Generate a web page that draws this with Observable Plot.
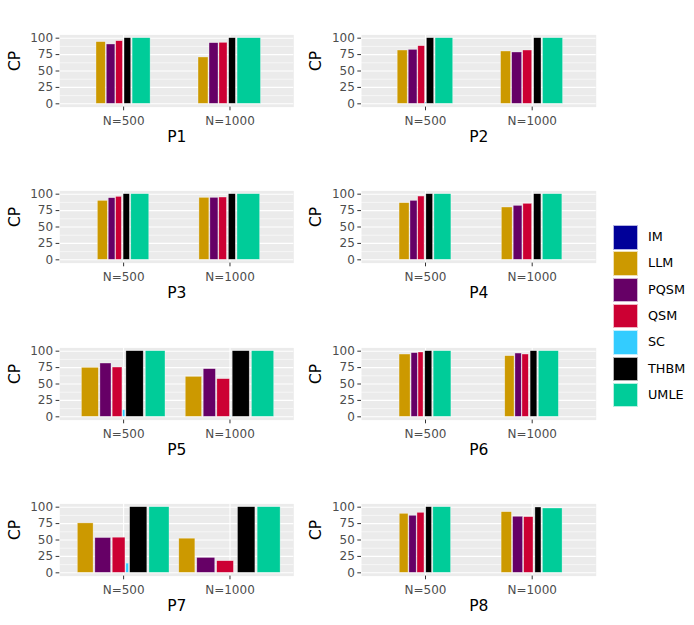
<!DOCTYPE html>
<html><head><meta charset="utf-8">
<script src="https://cdn.jsdelivr.net/npm/d3@7"></script>
<script src="https://cdn.jsdelivr.net/npm/@observablehq/plot@0.6"></script>
<style>
body{margin:0;background:#fff;font-family:"DejaVu Sans",sans-serif;}
#root{position:relative;width:694px;height:625px;overflow:hidden;}
.panel{position:absolute;}
.key{position:absolute;width:25px;height:24.5px;box-sizing:border-box;border:0.6px solid rgba(255,255,255,0.7);}
.lab{position:absolute;font-size:12.8px;color:#000;line-height:24.5px;}
</style></head><body><div id="root"></div>
<script>
// ---- data ----
const methods = ["IM", "LLM", "PQSM", "QSM", "SC", "THBM", "UMLE"];
const colors = ["#000099", "#CC9900", "#660066", "#CC0033", "#33CCFF", "#000000", "#00CC99"];
const sizes = ["N=500", "N=1000"];
const panelNames = ["P1", "P2", "P3", "P4", "P5", "P6", "P7", "P8"];
const yTicks = [0, 25, 50, 75, 100];

// CP (%) by method, [N=500, N=1000]
const cpP1 = [[0, 94, 90.4, 95.4, 0, 100, 100], [0, 70.6, 92.4, 92.9, 0, 100, 100]];
const cpP2 = [[0, 81.2, 82.2, 87.8, 2, 100, 100], [0, 79.7, 78.2, 81.2, 0, 100, 100]];
const cpP3 = [[0, 89.8, 93.9, 95.9, 1, 100, 100], [0, 94.4, 94.4, 94.9, 0, 100, 100]];
const cpP4 = [[0, 86.3, 89.8, 96.4, 0, 100, 100], [0, 79.7, 82.2, 85.3, 0, 100, 100]];
const cpP5 = [[0, 74.6, 81.2, 75.1, 10, 100, 100], [0, 60.9, 72.6, 57.4, 1, 100, 100]];
const cpP6 = [[0, 94.9, 97, 98, 0, 100, 100], [0, 92.4, 96.4, 94.9, 0, 100, 100]];
const cpP7 = [[0, 75.3, 53, 53.5, 14, 100, 100], [0, 52, 22.7, 17.7, 0, 100, 100]];
const cpP8 = [[0, 89.9, 86.9, 91.4, 1, 100, 100], [0, 92.4, 85.4, 84.8, 0, 99.5, 98]];

// bar width aesthetic (relative), by method, [N=500, N=1000]
const wP1 = [[0.3, 9.7, 9.0, 7.0, 0.8, 7.0, 18.8], [0.3, 10.4, 9.4, 8.4, 0.8, 7.0, 24.5]];
const wP2 = [[0.3, 10.4, 9.1, 7.0, 1.0, 7.6, 18.4], [0.3, 10.4, 10.4, 9.4, 1.0, 7.6, 20.9]];
const wP3 = [[0.3, 10.4, 7.0, 6.0, 1.0, 6.6, 18.8], [0.3, 10.4, 8.4, 8.0, 1.0, 7.3, 23.7]];
const wP4 = [[0.3, 10.4, 7.3, 6.6, 1.0, 7.0, 17.7], [0.3, 11.2, 9.1, 9.1, 1.0, 7.6, 20.3]];
const wP5 = [[0.3, 17.7, 11.6, 10.2, 2.3, 18.1, 20.6], [0.3, 17.1, 12.8, 13.2, 1.0, 17.8, 23.3]];
const wP6 = [[0.3, 11.5, 6.6, 5.2, 1.0, 7.3, 18.5], [0.3, 9.7, 6.6, 6.6, 1.0, 7.0, 20.9]];
const wP7 = [[0.3, 16.5, 16.5, 13.3, 2.8, 18, 21], [0.3, 16.8, 18.8, 17.5, 2.0, 18.2, 24]];
const wP8 = [[0.3, 9.1, 7.6, 7.3, 1.0, 6.0, 18.5], [0.3, 10.8, 10.4, 9.7, 1.0, 6.3, 20.5]];

const cpAll = [cpP1, cpP2, cpP3, cpP4, cpP5, cpP6, cpP7, cpP8];
const wAll = [wP1, wP2, wP3, wP4, wP5, wP6, wP7, wP8];

// ---- dodge2-like layout (variable widths, 10% padding) in data units ----
function layout(cp, w) {
  const rows = [];
  sizes.forEach((s, k) => {
    const slots = w[k].map(v => v / 100);
    const total = d3.sum(slots);
    let a = (k + 1) - total / 2;
    methods.forEach((m, i) => {
      const c = a + slots[i] / 2, hv = slots[i] * 0.9 / 2;
      rows.push({method: m, size: s, cp: cp[k][i], x1: c - hv, x2: c + hv});
      a += slots[i];
    });
  });
  return rows.filter(d => d.cp > 0);
}

const root = document.getElementById("root");
const rowPitch = 156.3;
const font = '"DejaVu Sans", sans-serif';

panelNames.forEach((name, p) => {
  const col = p % 2, row = Math.floor(p / 2);
  const bars = layout(cpAll[p], wAll[p]);
  const ml = col === 0 ? 59.3 : 61, mr = col === 0 ? 6.7 : 4.3;
  const chart = Plot.plot({
    width: 300, height: 156,
    marginLeft: ml, marginRight: mr, marginTop: 34.4, marginBottom: 49.4,
    style: {fontFamily: font, background: "transparent", overflow: "visible"},
    x: {domain: [0.4, 2.6], axis: null},
    y: {domain: [-5, 105], axis: null},
    color: {domain: methods, range: colors},
    marks: [
      Plot.frame({fill: "#EBEBEB", stroke: null}),
      Plot.ruleY([12.5, 37.5, 62.5, 87.5], {stroke: "white", strokeWidth: 0.55}),
      Plot.ruleY(yTicks, {stroke: "white", strokeWidth: 1.1}),
      Plot.ruleX([1, 2], {stroke: "white", strokeWidth: 1.1}),
      Plot.rect(bars, {x1: "x1", x2: "x2", y1: 0, y2: "cp", fill: "method",
        stroke: "white", strokeOpacity: 0.55, strokeWidth: 0.6}),
      Plot.axisX([1, 2], {tickFormat: d => sizes[d - 1], tickSize: 3.7, tickPadding: 5.2,
        fontSize: 12, fill: "#4D4D4D", stroke: "#333333", label: null}),
      Plot.axisY(yTicks, {tickSize: 3.7, tickPadding: 3.0, fontSize: 12,
        fill: "#4D4D4D", stroke: "#333333", label: null}),
      Plot.text([name], {frameAnchor: "bottom", lineAnchor: "middle", dy: 29.6, fontSize: 15.5, fill: "black"}),
      Plot.text(["CP"], {frameAnchor: "left", lineAnchor: "middle", dx: -45, rotate: -90, fontSize: 15.5, fill: "black"})
    ]
  });
  chart.classList.add("panel");
  chart.style.left = (col * 300) + "px";
  chart.style.top = (row * rowPitch) + "px";
  root.appendChild(chart);
});

// ---- legend ----
methods.forEach((m, i) => {
  const top = 225 + i * 26.3;
  const k = document.createElement("div");
  k.className = "key";
  k.style.left = "613px"; k.style.top = top + "px";
  k.style.background = colors[i];
  root.appendChild(k);
  const t = document.createElement("div");
  t.className = "lab";
  t.style.left = "648px"; t.style.top = top + "px";
  t.textContent = m;
  root.appendChild(t);
});
</script>
</body></html>
